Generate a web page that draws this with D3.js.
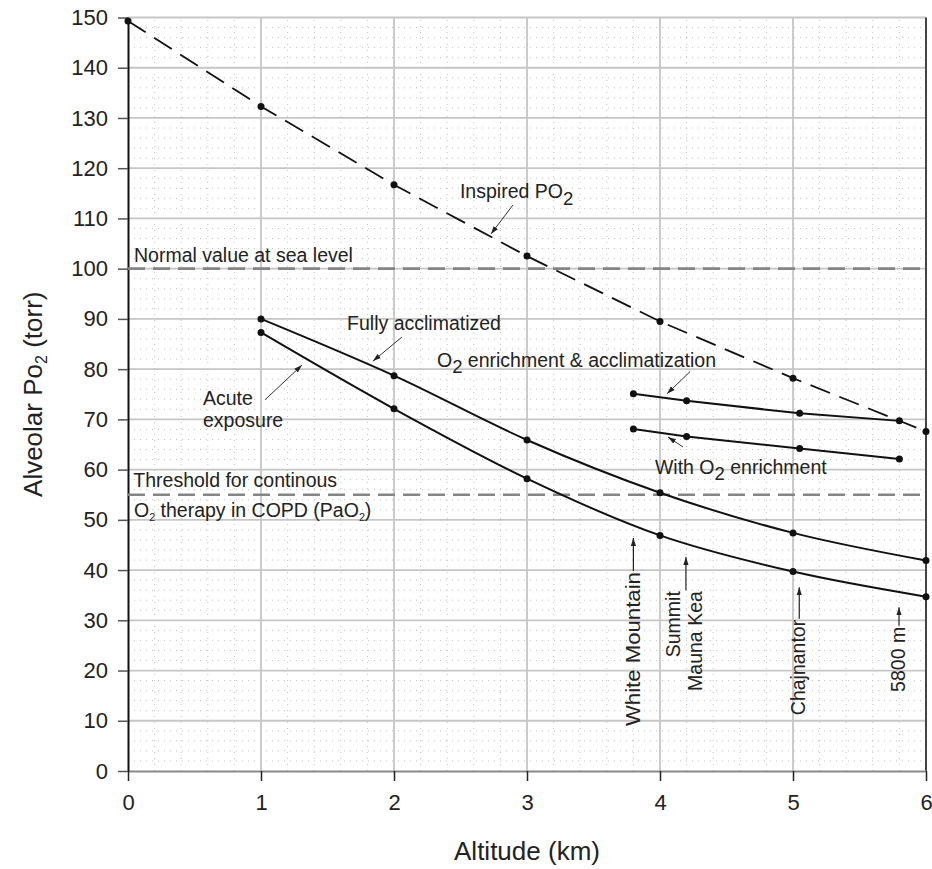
<!DOCTYPE html>
<html>
<head>
<meta charset="utf-8">
<script src="https://cdn.jsdelivr.net/npm/d3@7"></script>
<style>
  html, body { margin: 0; padding: 0; background: #fff; }
  svg { display: block; font-family: "Liberation Sans", Arial, sans-serif; }
  .grid-major line { stroke: #c6c6c6; stroke-width: 1.8; }
  .grid-minor line { stroke: #c2c2c2; stroke-width: 1; stroke-dasharray: 1 5; }
  .axis text { font-size: 22px; fill: #222; }
  .lbl { font-size: 19.5px; fill: #222; }
</style>
</head>
<body>
<div id="chart"></div>
<script>
// Alveolar PO2 vs altitude, with reference thresholds and site markers.
const altitudeKm = [0, 1, 2, 3, 4, 5, 6];
const inspiredPO2 = [149.3, 132.3, 116.7, 102.5, 89.5, 78.2, 67.6];

const curveKm = [1, 2, 3, 4, 5, 6];
const fullyAcclimatized = [90.0, 78.7, 65.9, 55.4, 47.4, 41.9];
const acuteExposure = [87.3, 72.1, 58.2, 46.9, 39.7, 34.7];

const enrichKm = [3.8, 4.2, 5.05, 5.8];
const enrichAcclim = [75.1, 73.7, 71.2, 69.7];
const enrichOnly = [68.1, 66.6, 64.2, 62.1];

const refLevels = [100, 55];

const xTicks = [0, 1, 2, 3, 4, 5, 6];
const yTicks = [0, 10, 20, 30, 40, 50, 60, 70, 80, 90, 100, 110, 120, 130, 140, 150];

// sites: altitude (km), arrow tip (torr), top of text (torr), text lines
const siteKm = [3.8, 4.195, 5.047, 5.797];
const siteTip = [46.4, 42.6, 36.6, 32.6];
const siteTop = [39.6, 35.8, 30.1, 28.7];
const siteLines = [["White Mountain"], ["Summit", "Mauna Kea"], ["Chajnantor"], ["5800 m"]];

const W = 932, H = 869;
const m = { l: 128, t: 17.5, r: 6, b: 98 };

const x = d3.scaleLinear([0, 6], [m.l, W - m.r]);
const y = d3.scaleLinear([0, 150], [H - m.b, m.t]);

const svg = d3.select("#chart").append("svg")
  .attr("width", W).attr("height", H)
  .attr("viewBox", `0 0 ${W} ${H}`);

svg.append("defs").append("marker")
  .attr("id", "arr").attr("viewBox", "0 -4 8 8")
  .attr("refX", 8).attr("refY", 0)
  .attr("markerWidth", 8).attr("markerHeight", 8)
  .attr("markerUnits", "userSpaceOnUse")
  .attr("orient", "auto")
  .append("path").attr("d", "M0,-2.6L8,0L0,2.6Z").attr("fill", "#222");

// Minor dotted grid: every 0.2 km and 2 torr.
const minorX = d3.range(1, 30).map((i) => i * 0.2).filter((v) => Math.abs(v - Math.round(v)) > 1e-6);
const minorY = d3.range(1, 75).map((i) => i * 2).filter((v) => v % 10 !== 0);
const gMinor = svg.append("g").attr("class", "grid-minor");
gMinor.selectAll("line.v").data(minorX).join("line").attr("class", "v")
  .attr("x1", (d) => x(d)).attr("x2", (d) => x(d)).attr("y1", y(0)).attr("y2", y(150));
gMinor.selectAll("line.h").data(minorY).join("line").attr("class", "h")
  .attr("x1", x(0)).attr("x2", x(6)).attr("y1", (d) => y(d)).attr("y2", (d) => y(d));

const gMajor = svg.append("g").attr("class", "grid-major");
gMajor.selectAll("line.v").data(xTicks.slice(1, -1)).join("line").attr("class", "v")
  .attr("x1", (d) => x(d)).attr("x2", (d) => x(d)).attr("y1", y(0)).attr("y2", y(150));
gMajor.selectAll("line.h").data(yTicks.slice(1)).join("line").attr("class", "h")
  .attr("x1", x(0)).attr("x2", x(6)).attr("y1", (d) => y(d)).attr("y2", (d) => y(d));

// Right border.
svg.append("line").attr("x1", x(6)).attr("x2", x(6)).attr("y1", y(0)).attr("y2", y(150))
  .attr("stroke", "#444").attr("stroke-width", 2);

// Axes.
const gx = svg.append("g").attr("class", "axis")
  .attr("transform", `translate(0,${y(0)})`)
  .call(d3.axisBottom(x).tickValues(xTicks).tickFormat(d3.format("d"))
    .tickSize(10).tickPadding(13).tickSizeOuter(0));
gx.select(".domain").attr("stroke", "#8a8a8a").attr("stroke-width", 2);
gx.selectAll(".tick line").attr("stroke", "#222").attr("stroke-width", 1.5);

const gy = svg.append("g").attr("class", "axis")
  .attr("transform", `translate(${x(0)},0)`)
  .call(d3.axisLeft(y).tickValues(yTicks).tickSize(10).tickPadding(10).tickSizeOuter(0));
gy.select(".domain").attr("stroke", "#111").attr("stroke-width", 2);
gy.selectAll(".tick line").attr("stroke", "#555").attr("stroke-width", 1.5);

// Reference dashed levels.
svg.append("g").selectAll("line").data(refLevels).join("line")
  .attr("x1", x(0)).attr("x2", x(6)).attr("y1", (d) => y(d)).attr("y2", (d) => y(d))
  .attr("stroke", "#858585").attr("stroke-width", 2.6).attr("stroke-dasharray", "17 8");

// Series.
const line = (curve) => d3.line().x((d) => x(d[0])).y((d) => y(d[1])).curve(curve);
const zip = (a, b) => a.map((v, i) => [v, b[i]]);

const series = [
  { pts: zip(altitudeKm, inspiredPO2), curve: d3.curveLinear, dash: "21 10", w: 1.8 },
  { pts: zip(curveKm, fullyAcclimatized), curve: d3.curveMonotoneX, dash: null, w: 2 },
  { pts: zip(curveKm, acuteExposure), curve: d3.curveMonotoneX, dash: null, w: 2 },
  { pts: zip(enrichKm, enrichAcclim), curve: d3.curveLinear, dash: null, w: 2 },
  { pts: zip(enrichKm, enrichOnly), curve: d3.curveLinear, dash: null, w: 2 },
];

const gS = svg.append("g");
series.forEach((s) => {
  gS.append("path").attr("d", line(s.curve)(s.pts))
    .attr("fill", "none").attr("stroke", "#111").attr("stroke-width", s.w)
    .attr("stroke-dasharray", s.dash);
  gS.selectAll(null).data(s.pts).join("circle")
    .attr("cx", (d) => x(d[0])).attr("cy", (d) => y(d[1])).attr("r", 3.5).attr("fill", "#111");
});

// Rich text helper: parts = [text, dy(px), scale]
function rich(sel, parts) {
  let shift = 0;
  parts.forEach(([t, dy = 0, k = 1]) => {
    const ts = sel.append("tspan").text(t);
    const d = dy - shift;
    if (d) ts.attr("dy", d);
    if (k !== 1) ts.attr("font-size", `${19.5 * k}px`);
    shift = dy;
  });
  return sel;
}

// Curve labels: position in data units (km, torr).
const labels = [
  { km: 0.045, v: 101.3, parts: [["Normal value at sea level"]] },
  { km: 0.04, v: 56.5, parts: [["Threshold for continous"]] },
  { km: 0.045, v: 50.5, parts: [["O"], ["2", 4, 0.55], [" therapy in COPD (PaO"], ["2", 4, 0.55], [")"]] },
  { km: 0.564, v: 72.9, parts: [["Acute"]] },
  { km: 0.564, v: 68.5, parts: [["exposure"]] },
  { km: 1.647, v: 87.8, parts: [["Fully acclimatized"]] },
  { km: 2.496, v: 114.0, parts: [["Inspired PO"], ["2", 7, 0.95]] },
  { km: 2.323, v: 80.5, parts: [["O"], ["2", 6, 0.95], [" enrichment & acclimatization"]] },
  { km: 3.962, v: 59.1, parts: [["With O"], ["2", 6, 0.95], [" enrichment"]] },
];
const gL = svg.append("g");
labels.forEach((l) => {
  rich(gL.append("text").attr("class", "lbl").attr("x", x(l.km)).attr("y", y(l.v)), l.parts);
});

// Pointer lines [from km, from torr, to km, to torr].
const pointers = [
  [2.895, 112.7, 2.729, 106.9],
  [2.060, 86.4, 1.842, 81.6],
  [1.030, 73.9, 1.308, 80.8],
  [4.226, 79.5, 4.053, 75.1],
  [4.173, 64.5, 4.060, 66.5],
];
svg.append("g").selectAll("line").data(pointers).join("line")
  .attr("x1", (d) => x(d[0])).attr("y1", (d) => y(d[1]))
  .attr("x2", (d) => x(d[2])).attr("y2", (d) => y(d[3]))
  .attr("stroke", "#333").attr("stroke-width", 1)
  .attr("marker-end", "url(#arr)");

// Site labels: rotated text ending at siteTop, arrow up to the curve.
const siteDy = [[0.35], [-0.3, 0.82], [0.3], [0.3]];
const gSite = svg.append("g");
siteKm.forEach((k, i) => {
  const px = x(k), top = y(siteTop[i]);
  siteLines[i].forEach((t, j) => {
    const txt = gSite.append("text").attr("class", "lbl")
      .attr("transform", `translate(${px},${top}) rotate(-90)`)
      .attr("text-anchor", "end")
      .attr("dy", `${siteDy[i][j]}em`)
      .text(t);
    // the reference sets this one slightly wider
    if (t === "White Mountain") txt.attr("textLength", 154).attr("lengthAdjust", "spacingAndGlyphs");
  });
  gSite.append("line")
    .attr("x1", px).attr("x2", px)
    .attr("y1", top - 1).attr("y2", y(siteTip[i]))
    .attr("stroke", "#222").attr("stroke-width", 1.2)
    .attr("marker-end", "url(#arr)");
});

// Axis titles.
svg.append("text").attr("x", x(3)).attr("y", 860)
  .attr("text-anchor", "middle").attr("font-size", "26px").attr("fill", "#222")
  .text("Altitude (km)");
const yt = svg.append("text")
  .attr("transform", `translate(42,${y(75)}) rotate(-90)`)
  .attr("text-anchor", "middle").attr("font-size", "26px").attr("fill", "#222");
yt.append("tspan").text("Alveolar Po");
yt.append("tspan").text("2").attr("font-size", "16px").attr("dy", 5);
yt.append("tspan").text(" (torr)").attr("dy", -5);
</script>
</body>
</html>
